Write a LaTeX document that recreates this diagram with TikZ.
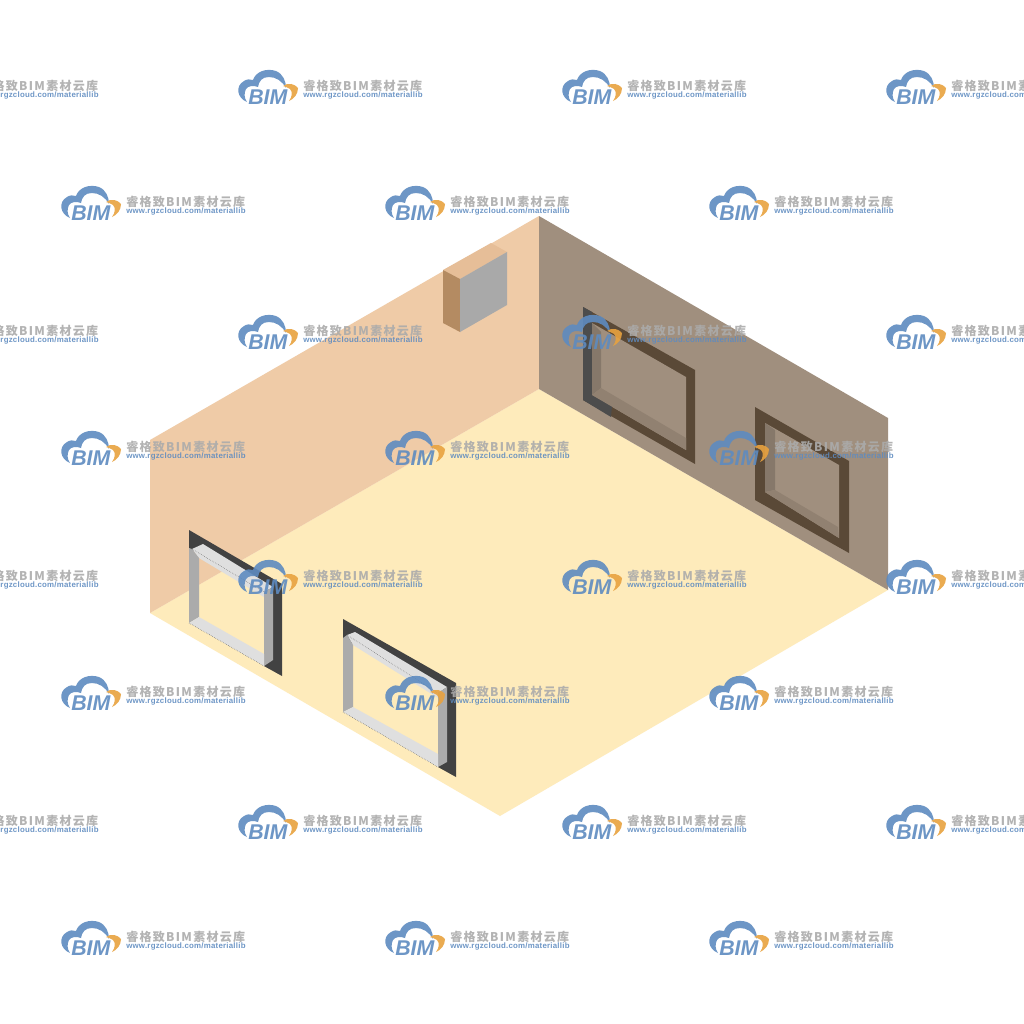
\documentclass[tikz,border=0pt]{standalone}
\usepackage{fontspec}
\setmainfont{Liberation Sans}
\newfontfamily\cjkfont[LetterSpace=11]{Noto Sans CJK SC}
\newfontfamily\urlfont[LetterSpace=3]{Liberation Sans}
\definecolor{floorc}{HTML}{FEEBBB}
\definecolor{lwall}{HTML}{EFCBA7}
\definecolor{rwall}{HTML}{A08F7E}
\definecolor{boxtop}{HTML}{E6BE98}
\definecolor{boxside}{HTML}{B48B62}
\definecolor{boxfront}{HTML}{A9A9A9}
\definecolor{fdark}{HTML}{424242}
\definecolor{flight}{HTML}{DFDFDF}
\definecolor{fgray}{HTML}{ABABAB}
\definecolor{rframe}{HTML}{5A4937}
\definecolor{rframeg}{HTML}{4C4C4C}
\definecolor{rrevl}{HTML}{86786A}
\definecolor{rrevb}{HTML}{918171}
\definecolor{wblue}{HTML}{5E8BC0}
\definecolor{worange}{HTML}{E8A23F}
\definecolor{wgray}{HTML}{ABABAB}
\tikzset{
  wmtitle/.style={anchor=west,inner sep=0pt,text=wgray,font=\fontsize{9pt}{10pt}\selectfont\bfseries\cjkfont},
  wmurl/.style={anchor=west,inner sep=0pt,text=wblue,font=\fontsize{5.9pt}{6.5pt}\selectfont\urlfont\bfseries},
  wmbim/.style={inner sep=0pt,text=wblue,font=\fontsize{16pt}{16pt}\selectfont\bfseries\itshape},
  edgeline/.style={draw=black!70,line width=.35pt,densely dotted},
}
% #1,#2: x of cloud centre, y of title line
\newcommand{\wmark}[3]{%
  \begin{scope}[shift={(#1,#2)}]
    \fill[wblue] (-21,15) .. controls (-31,11) and (-33,-1) .. (-24,-6)
      .. controls (-21,-8) and (-18,-8) .. (-15,-7)
      .. controls (-12,-16) and (-1,-19) .. (8,-16)
      .. controls (15,-13) and (18,-6) .. (18,1)
      .. controls (14,-6) and (8,-10) .. (1,-10)
      .. controls (-6,-10) and (-9,-6) .. (-10,0)
      .. controls (-15,-2) and (-20,-1) .. (-22,2)
      .. controls (-24,6) and (-24,11) .. (-21,15) -- cycle;
    \fill[worange] (15,-1) .. controls (20,-5) and (27,-3) .. (30,1)
      .. controls (30,7) and (26,12) .. (21,14)
      .. controls (24,10) and (25,5) .. (22,2)
      .. controls (20,0) and (17,0) .. (15,-1) -- cycle;
    \node[wmbim,anchor=west] (bim#3) at (-20,10.5) {BIM};
    \node[wmtitle] (title#3) at (35,-1) {睿格致BIM素材云库};
    \node[wmurl] (url#3) at (35,8.6) {www.rgzcloud.com/materiallib};
  \end{scope}}
\begin{document}
\begin{tikzpicture}[x=0.75pt,y=-0.75pt]
\useasboundingbox (0,0) rectangle (1024,1024);
\clip (0,0) rectangle (1024,1024);
\fill[white] (0,0) rectangle (1024,1024);
% room
\fill[floorc] (539,389) -- (888,590) -- (500,816) -- (150,613) -- cycle;
\fill[lwall] (150,613) -- (150,440) -- (539,216) -- (539,389) -- cycle;
\fill[rwall] (539,216) -- (888,418) -- (888,590) -- (539,389) -- cycle;
% wall box
\fill[boxtop] (443,270) -- (491,243) -- (507,252) -- (460,279) -- cycle;
\fill[boxside] (443,270) -- (460,279) -- (460,332) -- (443,323) -- cycle;
\fill[boxfront] (460,279) -- (507,252) -- (507,305) -- (460,332) -- cycle;
% right wall window 1
\fill[rframe] (583,307) -- (695,370) -- (695,464) -- (583,400) -- cycle;
\fill[rwall] (592,323) -- (686,377) -- (686,450) -- (592,395) -- cycle;
\fill[rframeg] (583,307) -- (592,312) -- (592,395) -- (612,406) -- (611,417) -- (583,400) -- cycle;
\fill[rrevl] (592,323) -- (601,332) -- (601,388) -- (592,395) -- cycle;
\fill[rrevb] (592,395) -- (601,388) -- (686,438) -- (686,450) -- cycle;
% right wall window 2
\fill[rframe] (755,407) -- (849,461) -- (849,553) -- (755,500) -- cycle;
\fill[rwall] (765,423) -- (839,465) -- (839,538) -- (765,492) -- cycle;
\fill[rrevl] (765,423) -- (775,430) -- (775,490) -- (765,492) -- cycle;
\fill[rrevb] (765,492) -- (775,490) -- (838,527) -- (839,538) -- cycle;
% near window 1
\fill[fdark] (189,530) -- (282,584) -- (282,676) -- (264,666) -- (264,592) -- (189,548) -- cycle;
\fill[flight] (192,549) -- (203,544) -- (273,587) -- (264,592) -- (264,597) -- (199,558) -- cycle;
\fill[fgray] (189,548) -- (192,549) -- (199,558) -- (199,617) -- (189,623) -- cycle;
\fill[fgray] (264,592) -- (273,587) -- (273,660) -- (264,666) -- cycle;
\fill[flight] (189,623) -- (199,617) -- (264,654) -- (264,666) -- cycle;
\draw[edgeline] (192,549) -- (264,592);
\draw[edgeline] (189,623) -- (264,666);
% near window 2
\fill[fdark] (343,619) -- (456,683) -- (456,777) -- (438,767) -- (438,693) -- (343,638) -- cycle;
\fill[flight] (347,635) -- (355,632) -- (447,687) -- (438,693) -- (438,698) -- (353,645) -- cycle;
\fill[fgray] (343,638) -- (347,635) -- (353,645) -- (353,707) -- (343,712) -- cycle;
\fill[fgray] (438,693) -- (447,687) -- (447,762) -- (438,767) -- cycle;
\fill[flight] (343,712) -- (353,707) -- (438,754) -- (438,767) -- cycle;
\draw[edgeline] (347,635) -- (438,693);
\draw[edgeline] (343,712) -- (438,767);
% watermark
\begin{scope}[opacity=.9,transparency group]
\foreach \y/\r in {87/a,332/c,577/e,822/g}
  \foreach \x/\c in {-56/p,268/q,592/r,916/s}
    {\wmark{\x}{\y}{\r\c}}
\foreach \y/\r in {203/b,448/d,693/f,938/h}
  \foreach \x/\c in {91/q,415/r,739/s}
    {\wmark{\x}{\y}{\r\c}}
\end{scope}
\end{tikzpicture}
\end{document}
